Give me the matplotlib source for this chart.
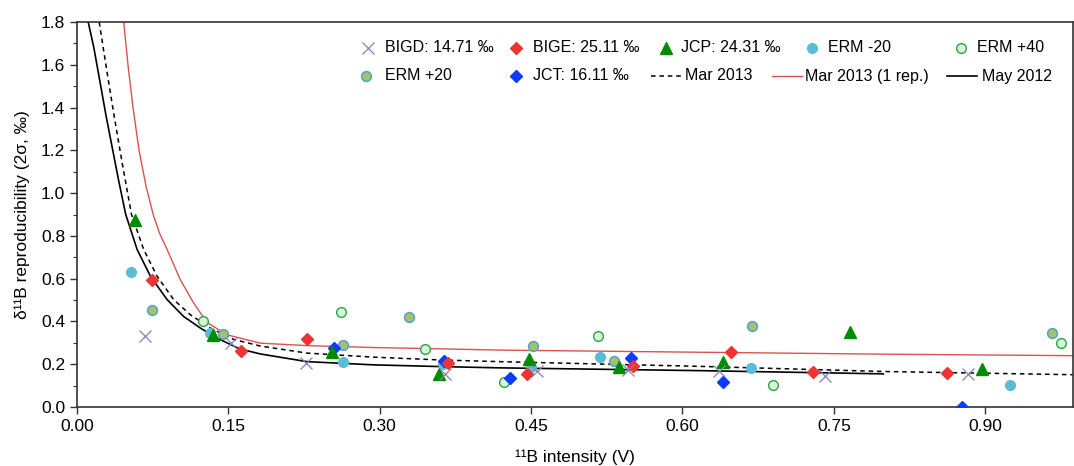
import numpy as np
import matplotlib.pyplot as plt
from matplotlib.ticker import MultipleLocator, FormatStrFormatter

plt.rcParams['font.family'] = ['Liberation Sans', 'DejaVu Sans']

# measured reproducibility (2 sigma, permil) vs 11B intensity (V)
bigd_x = [0.067, 0.153, 0.227, 0.365, 0.456, 0.546, 0.636, 0.741, 0.883]
bigd_y = [0.333, 0.298, 0.208, 0.156, 0.170, 0.171, 0.170, 0.145, 0.153]

bige_x = [0.074, 0.163, 0.228, 0.368, 0.446, 0.551, 0.648, 0.729, 0.862]
bige_y = [0.595, 0.264, 0.317, 0.208, 0.152, 0.191, 0.256, 0.164, 0.158]

jcp_x = [0.057, 0.135, 0.253, 0.359, 0.448, 0.537, 0.640, 0.766, 0.897]
jcp_y = [0.873, 0.338, 0.259, 0.153, 0.223, 0.189, 0.212, 0.350, 0.177]

erm_m20_x = [0.054, 0.132, 0.264, 0.363, 0.450, 0.518, 0.668, 0.925]
erm_m20_y = [0.630, 0.345, 0.209, 0.201, 0.189, 0.233, 0.181, 0.102]

erm_p40_x = [0.125, 0.262, 0.345, 0.423, 0.516, 0.690, 0.975]
erm_p40_y = [0.403, 0.445, 0.272, 0.116, 0.330, 0.105, 0.297]

erm_p20_x = [0.074, 0.145, 0.264, 0.329, 0.452, 0.532, 0.669, 0.966]
erm_p20_y = [0.455, 0.342, 0.292, 0.419, 0.286, 0.217, 0.380, 0.348]

jct_x = [0.255, 0.364, 0.429, 0.549, 0.640, 0.877]
jct_y = [0.275, 0.217, 0.136, 0.230, 0.119, 0.0]

# model curves
may12_x = [0.0111, 0.0166, 0.0226, 0.0285, 0.0349, 0.0414, 0.0483, 0.0596, 0.0728,
           0.0893, 0.1057, 0.1223, 0.1388, 0.161, 0.1817, 0.228, 0.294, 0.360,
           0.419, 0.617, 0.799]
may12_y = [1.80, 1.682, 1.525, 1.369, 1.213, 1.056, 0.90, 0.736, 0.611,
           0.502, 0.423, 0.369, 0.322, 0.272, 0.248, 0.212, 0.197, 0.189,
           0.183, 0.170, 0.155]

mar13_x = [0.022, 0.0285, 0.0365, 0.045, 0.054, 0.0661, 0.0794, 0.0958, 0.1124,
           0.1322, 0.1552, 0.1817, 0.228, 0.294, 0.360, 0.419, 0.617, 0.799, 0.987]
mar13_y = [1.80, 1.603, 1.369, 1.135, 0.90, 0.736, 0.611, 0.502, 0.431,
           0.369, 0.316, 0.285, 0.252, 0.233, 0.220, 0.212, 0.190, 0.166, 0.151]

mar13_1_x = [0.0463, 0.0505, 0.0555, 0.0615, 0.0685, 0.0755, 0.0820, 0.0893, 0.1024,
             0.1156, 0.1289, 0.1487, 0.1817, 0.228, 0.294, 0.360, 0.419, 0.617,
             0.799, 0.987]
mar13_1_y = [1.80, 1.60, 1.40, 1.20, 1.03, 0.90, 0.81, 0.736, 0.595,
             0.486, 0.395, 0.3375, 0.2985, 0.287, 0.278, 0.272, 0.266, 0.256,
             0.247, 0.240]

fig = plt.figure(figsize=(10.74, 4.66), dpi=100)
ax = fig.add_axes([77/1074, 59/466, 996/1074, 385/466])

line_styles = {
    'Mar 2013': dict(color='black', lw=1.1, ls=(0, (3, 2.5))),
    'Mar 2013 (1 rep.)': dict(color='#d9534f', lw=1.0),
    'May 2012': dict(color='black', lw=1.2),
}
ax.plot(mar13_x, mar13_y, zorder=1, **line_styles['Mar 2013'])
ax.plot(mar13_1_x, mar13_1_y, zorder=1, **line_styles['Mar 2013 (1 rep.)'])
ax.plot(may12_x, may12_y, zorder=1, **line_styles['May 2012'])

marker_styles = {
    'ERM -20': dict(marker='o', ms=7, color='#5bbcd6', mec='#5bbcd6'),
    'ERM +20': dict(marker='o', ms=7, color='#a8bf6e', mec='#55a8c4', mew=1.2),
    'ERM +40': dict(marker='o', ms=7, color='#d6f7d6', mec='#2ea34a', mew=1.0),
    'JCT: 16.11 ‰': dict(marker='D', ms=6, color='#0a3cff'),
    'BIGE: 25.11 ‰': dict(marker='D', ms=6, color='#ee3333'),
    'JCP: 24.31 ‰': dict(marker='^', ms=9, color='#008c00'),
    'BIGD: 14.71 ‰': dict(marker='x', ms=8, mew=0.9, color='#8b80b6'),
}
series = [('ERM -20', erm_m20_x, erm_m20_y, 3), ('ERM +20', erm_p20_x, erm_p20_y, 3),
          ('ERM +40', erm_p40_x, erm_p40_y, 3), ('JCT: 16.11 ‰', jct_x, jct_y, 4),
          ('BIGE: 25.11 ‰', bige_x, bige_y, 4), ('JCP: 24.31 ‰', jcp_x, jcp_y, 5),
          ('BIGD: 14.71 ‰', bigd_x, bigd_y, 6)]
for name, xs, ys, z in series:
    ax.plot(xs, ys, ls='none', zorder=z, **marker_styles[name])

# legend laid out by hand (rows are not on a common grid in the original)
def px(x):
    return (x - 77) / 996

def py(y):
    return (407 - y) / 385

legend_rows = [
    (48, [('BIGD: 14.71 ‰', 368, 385), ('BIGE: 25.11 ‰', 516, 533), ('JCP: 24.31 ‰', 666, 681),
          ('ERM -20', 812, 828), ('ERM +40', 961, 977)]),
    (76, [('ERM +20', 366, 385), ('JCT: 16.11 ‰', 516, 533), ('Mar 2013', 666, 685),
          ('Mar 2013 (1 rep.)', 787, 805), ('May 2012', 962, 982)]),
]
for ypix, entries in legend_rows:
    for name, hx, tx in entries:
        if name in line_styles:
            ax.plot([px(hx - 15), px(hx + 15)], [py(ypix)] * 2, transform=ax.transAxes,
                    clip_on=False, **line_styles[name])
        else:
            ax.plot([px(hx)], [py(ypix)], transform=ax.transAxes, clip_on=False,
                    ls='none', **marker_styles[name])
        ax.text(px(tx), py(ypix), name, transform=ax.transAxes, fontsize=11.5,
                ha='left', va='center')

ax.set_xlim(0, 0.987)
ax.set_ylim(0, 1.8)
ax.xaxis.set_major_locator(MultipleLocator(0.15))
ax.xaxis.set_major_formatter(FormatStrFormatter('%.2f'))
ax.yaxis.set_major_locator(MultipleLocator(0.2))
ax.yaxis.set_minor_locator(MultipleLocator(0.1))
ax.yaxis.set_major_formatter(FormatStrFormatter('%.1f'))
ax.tick_params(which='major', direction='out', length=5, width=1, labelsize=12.5, color='#333333')
ax.tick_params(which='minor', direction='out', length=3, width=0.8, color='#333333')
for s in ax.spines.values():
    s.set_linewidth(1.2)
    s.set_color('#333333')

ax.set_xlabel('¹¹B intensity (V)', fontsize=12.5, labelpad=11)
ax.set_ylabel('δ¹¹B reproducibility (2σ, ‰)', fontsize=12.5, labelpad=8)

fig.savefig('out.png', dpi=100)
